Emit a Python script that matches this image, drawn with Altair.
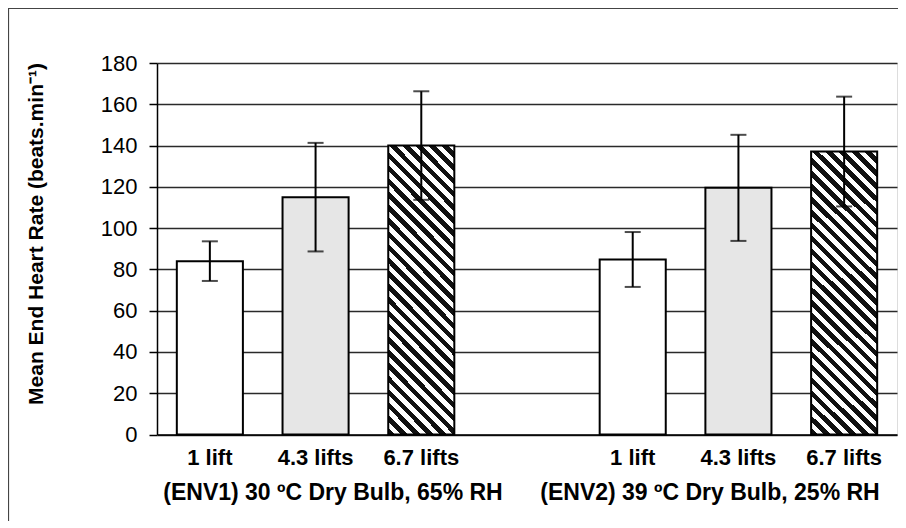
import altair as alt
import pandas as pd

# ---- data ----
lift_labels = ["1 lift", "4.3 lifts", "6.7 lifts"]
env_keys = ["E1", "E2"]
env_labels = ["(ENV1) 30 ºC Dry Bulb, 65% RH", "(ENV2) 39 ºC Dry Bulb, 25% RH"]
env1_mean = [84.0, 115.0, 140.0]
env1_sd = [9.6, 26.3, 26.3]
env2_mean = [84.8, 119.5, 137.1]
env2_sd = [13.3, 25.7, 26.6]
patterns = ["plain", "stipple", "hatch"]
y_ticks = [0, 20, 40, 60, 80, 100, 120, 140, 160, 180]
y_title = "Mean End Heart Rate (beats.min⁻¹)"

# ---- table ----
rows = []
for ek, means, sds in zip(env_keys, [env1_mean, env2_mean], [env1_sd, env2_sd]):
    for lab, m, s, p in zip(lift_labels, means, sds, patterns):
        rows.append({"key": f"{ek}|{lab}", "mean": m, "lo": m - s, "hi": m + s, "pattern": p})
df = pd.DataFrame(rows)
slot_keys = [f"E1|{l}" for l in lift_labels] + ["gap"] + [f"E2|{l}" for l in lift_labels]

FONT = "Liberation Sans"
W, H = 740, 371.5

# hatch fill built as a striped linear gradient (bounding-box units)
bar_w = 0.625 * W / 7
bar_h = (env1_mean[2] + env2_mean[2]) / 2 * H / 180
r = bar_w / bar_h
s = (r + 1) / (r * r + 1)
gx2, gy2 = r * s, 1 - s
N = round((bar_w + bar_h) / 13)
stops = []
for k in range(N):
    a, b, c = k / N, (k + 0.5) / N, (k + 1) / N
    stops += [alt.GradientStop(offset=a, color="#111111"),
              alt.GradientStop(offset=b, color="#111111"),
              alt.GradientStop(offset=b, color="#ffffff"),
              alt.GradientStop(offset=c, color="#ffffff")]
hatch = alt.LinearGradient(gradient="linear", stops=stops, x1=0, y1=1, x2=gx2, y2=gy2)

x_enc = alt.X(
    "key:N",
    scale=alt.Scale(domain=slot_keys, paddingInner=0.375, paddingOuter=0.1875),
    axis=alt.Axis(
        title=None, ticks=False, labelAngle=0, labelExpr="substring(datum.value, 3)",
        labelFont=FONT, labelFontSize=22, labelFontWeight="bold", labelColor="black",
        labelBaseline="alphabetic", labelPadding=29.5, domainColor="black", domainWidth=1.5,
        grid=False,
    ),
)
y_enc = alt.Y(
    "mean:Q",
    scale=alt.Scale(domain=[0, 180], nice=False),
    axis=alt.Axis(
        values=y_ticks, title=y_title, titleFont=FONT, titleFontSize=21, titleFontWeight="bold",
        titleColor="black", titleX=-121, titleY=170.5, titleAlign="center", titleBaseline="middle",
        labelFont=FONT, labelFontSize=22, labelColor="black", labelPadding=12,
        tickSize=8, tickColor="black", tickWidth=1.5, domainColor="black", domainWidth=1.5,
        grid=True, gridColor="#2a2a2a", gridWidth=1.4,
    ),
)

base = alt.Chart(df)

bars_plain = base.transform_filter(alt.datum.pattern == "plain").mark_bar(
    fill="white", stroke="black", strokeWidth=2).encode(x=x_enc, y=y_enc)
bars_stip = base.transform_filter(alt.datum.pattern == "stipple").mark_bar(
    fill="#e6e6e6", stroke="black", strokeWidth=2).encode(x=x_enc, y=y_enc)
bars_hatch = base.transform_filter(alt.datum.pattern == "hatch").mark_bar(
    fill=hatch, stroke="black", strokeWidth=2).encode(x=x_enc, y=y_enc)

err = base.mark_rule(color="black", strokeWidth=2).encode(
    x=alt.X("key:N", scale=alt.Scale(domain=slot_keys)), y="lo:Q", y2="hi:Q")
cap_hi = base.mark_tick(color="black", thickness=2, size=16).encode(
    x=alt.X("key:N", scale=alt.Scale(domain=slot_keys)), y="hi:Q")
cap_lo = base.mark_tick(color="black", thickness=2, size=16).encode(
    x=alt.X("key:N", scale=alt.Scale(domain=slot_keys)), y="lo:Q")

env1_text = alt.Chart(pd.DataFrame({"t": [env_labels[0]]})).mark_text(
    font=FONT, fontSize=23, fontWeight="bold", color="black", align="center",
    baseline="alphabetic").encode(x=alt.value(176), y=alt.value(437), text="t:N")
env2_text = alt.Chart(pd.DataFrame({"t": [env_labels[1]]})).mark_text(
    font=FONT, fontSize=23, fontWeight="bold", color="black", align="center",
    baseline="alphabetic").encode(x=alt.value(553), y=alt.value(437), text="t:N")

frame = alt.Chart(pd.DataFrame({"a": [0]})).mark_rect(
    fillOpacity=0, stroke="#444444", strokeWidth=1.2).encode(
    x=alt.value(-148.5), y=alt.value(-54.5), x2=alt.value(780), y2=alt.value(500))

chart = alt.layer(
    frame, bars_plain, bars_stip, bars_hatch, err, cap_hi, cap_lo, env1_text, env2_text
).properties(
    width=W, height=H,
    autosize=alt.AutoSizeParams(type="none"),
    padding={"left": 149, "top": 55, "right": 1, "bottom": 86},
).configure_view(
    stroke="#8a8a8a", strokeDash=[2, 2], strokeWidth=1.2
).configure(background="white")

chart.save("out.html", embed_options={"renderer": "svg", "actions": False})
